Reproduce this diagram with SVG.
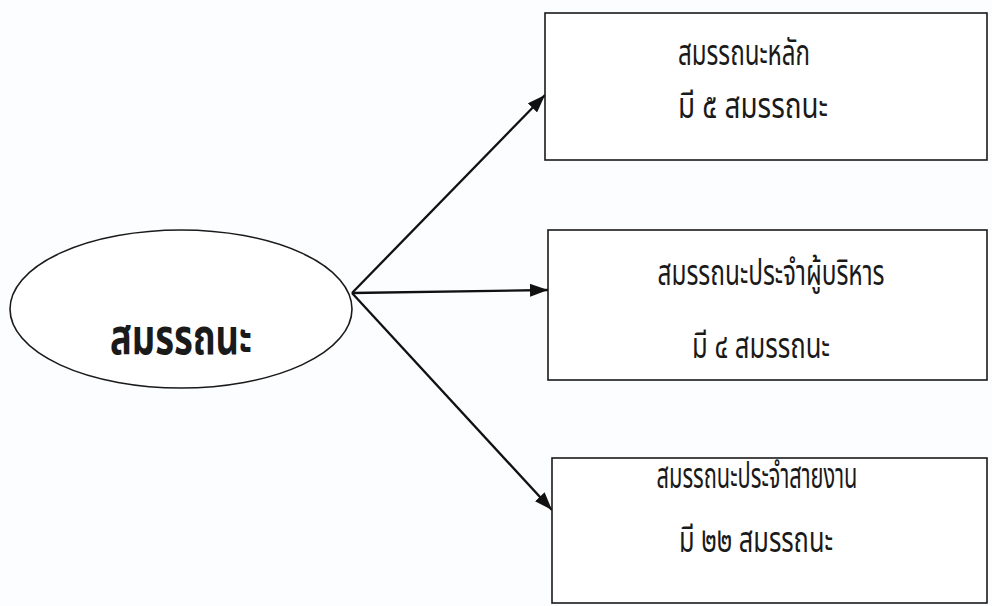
<svg xmlns="http://www.w3.org/2000/svg" width="992" height="606" viewBox="0 0 992 606">
  <style>
    .box { fill: #ffffff; stroke: #1a1a1a; stroke-width: 1.6; }
    .edge { stroke: #111111; stroke-width: 2.3; fill: none; marker-end: url(#arrow); }
    .lbl { font-family: "Noto Sans Thai", "Noto Sans", "DejaVu Sans", sans-serif; font-size: 35px; fill: #1a1a1a; text-anchor: middle; }
    .main { font-family: "Noto Sans Thai", "Noto Sans", "DejaVu Sans", sans-serif; font-size: 50px; font-weight: bold; fill: #1a1a1a; text-anchor: middle; }
  </style>
  <defs>
    <marker id="arrow" markerWidth="18" markerHeight="13" refX="18" refY="6.5" orient="auto" markerUnits="userSpaceOnUse" viewBox="0 0 18 13">
      <path d="M0,0 L18,6.5 L0,13 Z" fill="#111111"/>
    </marker>
  </defs>
  <rect width="992" height="606" fill="#fbfdfe"/>

  <g id="connectors">
    <line class="edge" x1="352" y1="293" x2="545" y2="95"/>
    <line class="edge" x1="352" y1="293" x2="548" y2="290"/>
    <line class="edge" x1="352" y1="293" x2="552" y2="510"/>
  </g>

  <g id="core">
    <ellipse cx="181" cy="309" rx="171" ry="79" class="box"/>
    <text class="main" x="181" y="354" textLength="142" lengthAdjust="spacingAndGlyphs">สมรรถนะ</text>
  </g>

  <g id="core-competency">
    <rect x="545" y="13" width="442" height="147" class="box"/>
    <text class="lbl" x="744" y="65" textLength="132" lengthAdjust="spacingAndGlyphs">สมรรถนะหลัก</text>
    <text class="lbl" x="753" y="118" textLength="150" lengthAdjust="spacingAndGlyphs">มี ๕ สมรรถนะ</text>
  </g>

  <g id="managerial-competency">
    <rect x="548" y="230" width="439" height="150" class="box"/>
    <text class="lbl" x="771" y="285" textLength="227" lengthAdjust="spacingAndGlyphs">สมรรถนะประจำผู้บริหาร</text>
    <text class="lbl" x="761" y="358" textLength="138" lengthAdjust="spacingAndGlyphs">มี  ๔ สมรรถนะ</text>
  </g>

  <g id="functional-competency">
    <rect x="552" y="458" width="435" height="145" class="box"/>
    <text class="lbl" x="757" y="488" textLength="201" lengthAdjust="spacingAndGlyphs">สมรรถนะประจำสายงาน</text>
    <text class="lbl" x="756" y="552" textLength="154" lengthAdjust="spacingAndGlyphs">มี ๒๒ สมรรถนะ</text>
  </g>
</svg>
